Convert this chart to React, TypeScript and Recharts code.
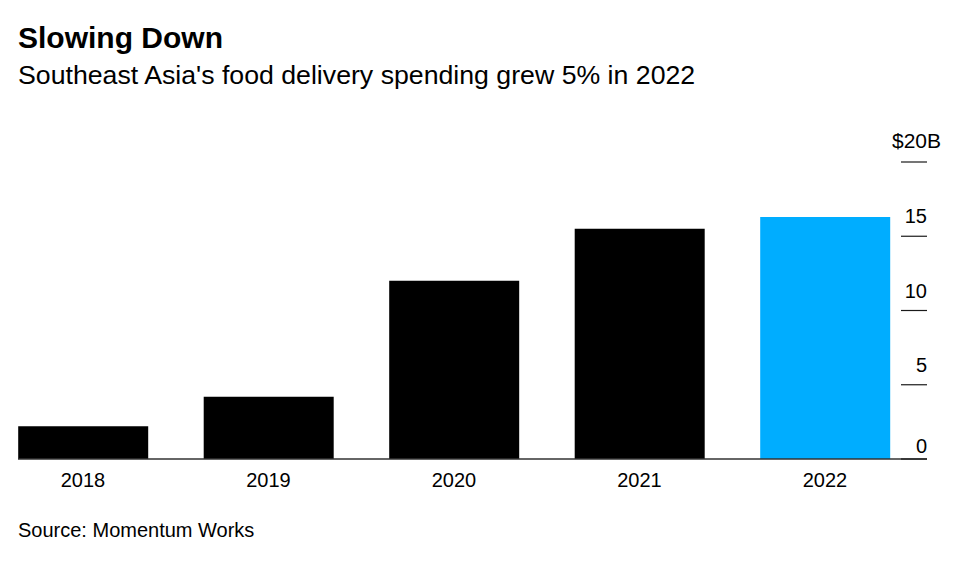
import { BarChart, Bar, XAxis, YAxis, Cell } from 'recharts';

const years = ['2018', '2019', '2020', '2021', '2022'];
const spending = [2.2, 4.2, 12.0, 15.5, 16.3];
const yTicks = [0, 5, 10, 15, 20];
const highlightYear = '2022';

const data = years.map((year, i) => ({ year, value: spending[i] }));

const FONT = '"Liberation Sans", Arial, sans-serif';

const RightTick = (props: any) => {
  const { x, y, payload } = props;
  const isTop = payload.value === 20;
  const dy = payload.value === 0 ? -6 : -13;
  return (
    <g>
      <line x1={x - 26} x2={x} y1={y} y2={y} stroke="#1a1a1a" strokeWidth={1.2} />
      {isTop ? (
        <text x={x - 35} y={y - 14} textAnchor="start" fontSize={21} fill="#000" fontFamily={FONT}>
          $20B
        </text>
      ) : (
        <text x={x} y={y + dy} textAnchor="end" fontSize={20} fill="#000" fontFamily={FONT}>
          {payload.value}
        </text>
      )}
    </g>
  );
};

const BottomTick = (props: any) => {
  const { x, y, payload } = props;
  return (
    <text x={x} y={y + 28} textAnchor="middle" fontSize={20} fill="#000" fontFamily={FONT}>
      {payload.value}
    </text>
  );
};

const App = () => {
  return (
    <div style={{ position: 'absolute', left: 0, top: 0, width: 974, height: 567, background: '#fff', fontFamily: FONT, color: '#000' }}>
      {/* Header */}
      <div style={{ position: 'absolute', left: 18, top: 23, fontSize: 30, lineHeight: '30px', fontWeight: 700, whiteSpace: 'nowrap' }}>
        Slowing Down
      </div>
      <div style={{ position: 'absolute', left: 18, top: 62, fontSize: 26.7, lineHeight: '26px', whiteSpace: 'nowrap' }}>
        Southeast Asia's food delivery spending grew 5% in 2022
      </div>

      {/* Chart */}
      <div style={{ position: 'absolute', left: 0, top: 0 }}>
        <BarChart width={974} height={500} data={data} margin={{ top: 162, right: 0, left: 18, bottom: 0 }}>
          <XAxis
            dataKey="year"
            height={41}
            tickSize={0}
            tickMargin={0}
            tickLine={false}
            axisLine={{ stroke: '#333', strokeWidth: 1.5 }}
            padding={{ left: -27.8, right: 9.3 }}
            tick={<BottomTick />}
            interval={0}
          />
          <YAxis
            orientation="right"
            domain={[0, 20]}
            ticks={yTicks}
            width={47}
            tickSize={0}
            tickMargin={0}
            tickLine={false}
            axisLine={false}
            tick={<RightTick />}
            interval={0}
          />
          <Bar dataKey="value" barSize={130} isAnimationActive={false}>
            {data.map((d) => (
              <Cell key={d.year} fill={d.year === highlightYear ? '#00ADFF' : '#000000'} />
            ))}
          </Bar>
        </BarChart>
      </div>

      {/* Footer */}
      <div style={{ position: 'absolute', left: 18, top: 520, fontSize: 20, lineHeight: '20px', whiteSpace: 'nowrap' }}>
        Source: Momentum Works
      </div>
    </div>
  );
};

export default App;
